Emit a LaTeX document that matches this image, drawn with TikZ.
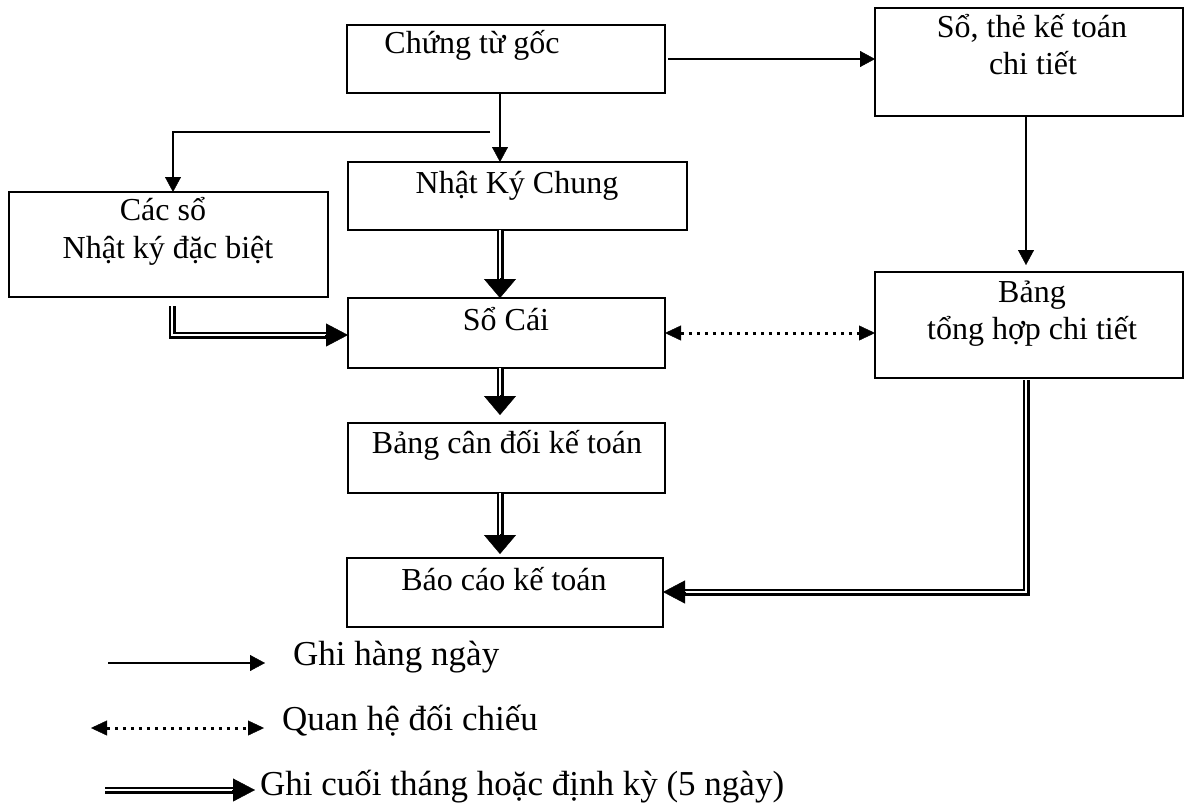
\documentclass[tikz,border=0pt]{standalone}
\usepackage{fontspec}
\setmainfont{Liberation Serif}
\usetikzlibrary{arrows.meta}
\begin{document}
\begin{tikzpicture}[x=1pt,y=-1pt,
  box/.style={draw, line width=1.8pt, rectangle, inner sep=0pt, outer sep=0pt},
  lbl/.style={anchor=base, font=\fontsize{32}{38}\selectfont, inner sep=0pt},
  leg/.style={anchor=base west, font=\fontsize{35}{41}\selectfont, inner sep=0pt},
  flow/.style={line width=2pt, -{Triangle[length=15pt,width=16pt,line width=0.4pt]}},
  cmp/.style={line width=3pt, dash pattern=on 3pt off 5pt,
    {Triangle[length=16pt,width=15pt,line width=0.4pt]}-{Triangle[length=16pt,width=15pt,line width=0.4pt]}},
  dbl/.style={double, double distance=1.8pt, line width=2.6pt},
  vhead/.style={line width=0.4pt, -{Triangle[length=19pt,width=32pt,line width=0.4pt]}},
  hhead/.style={line width=0.4pt, -{Triangle[length=22pt,width=23pt,line width=0.4pt]}},
]
\useasboundingbox (0,0) rectangle (1190,803);

% boxes
\node[box, minimum width=318pt, minimum height=68pt] (A) at (506,59) {};
\node[lbl] (At) at (472,53) {Chứng từ gốc};
\node[box, minimum width=308pt, minimum height=108pt] (B) at (1029,62) {};
\node[lbl] (Bt1) at (1032,37) {Sổ, thẻ kế toán};
\node[lbl] (Bt2) at (1033,74) {chi tiết};
\node[box, minimum width=339pt, minimum height=68pt] (C) at (517.5,196) {};
\node[lbl] (Ct) at (517,193) {Nhật Ký Chung};
\node[box, minimum width=319pt, minimum height=105pt] (D) at (168.5,244.5) {};
\node[lbl] (Dt1) at (163,220) {Các sổ};
\node[lbl] (Dt2) at (168,258) {Nhật ký đặc biệt};
\node[box, minimum width=317pt, minimum height=70pt] (E) at (506.5,333) {};
\node[lbl] (Et) at (506,330) {Sổ Cái};
\node[box, minimum width=308pt, minimum height=106pt] (F) at (1029,325) {};
\node[lbl] (Ft1) at (1032,302) {Bảng};
\node[lbl] (Ft2) at (1032,339) {tổng hợp chi tiết};
\node[box, minimum width=317pt, minimum height=70pt] (G) at (506.5,458) {};
\node[lbl] (Gt) at (507,453) {Bảng cân đối kế toán};
\node[box, minimum width=316pt, minimum height=69pt] (H) at (505,592.5) {};
\node[lbl] (Ht) at (504,590) {Báo cáo kế toán};

% routing helpers
\coordinate (spine) at (500,0);
\coordinate (rspine) at (1026,0);
\coordinate (br) at (490,132);
\coordinate (dx) at (173,0);
\coordinate (dl) at (172,335);
\coordinate (fh) at (1026,592);

% daily entries
\draw[flow] ([xshift=3pt]A.east) -- (A.east -| B.west);
\draw[flow] (A.south -| spine) -- (C.north -| spine);
\draw[flow] (br) -- (br -| dx) -- (D.north -| dx);
\draw[flow] (B.south -| rspine) -- ([yshift=7pt]F.north -| rspine);

% cross-check
\draw[cmp] (E.east) -- (E.east -| F.west);

% periodic entries
\draw[dbl] (C.south -| spine) -- ([yshift=10pt]E.north -| spine);
\draw[vhead] ([yshift=20pt]E.north -| spine) -- (E.north -| spine);
\draw[dbl] ([yshift=-9pt]D.south -| dl) -- (dl) -- ([xshift=-10pt]E.west |- dl);
\draw[hhead] ([xshift=-23pt]E.west |- dl) -- (E.west |- dl);
\draw[dbl] (E.south -| spine) -- ([yshift=18pt]G.north -| spine);
\draw[vhead] ([yshift=28pt]G.north -| spine) -- ([yshift=8pt]G.north -| spine);
\draw[dbl] (G.south -| spine) -- ([yshift=14pt]H.north -| spine);
\draw[vhead] ([yshift=24pt]H.north -| spine) -- ([yshift=4pt]H.north -| spine);
\draw[dbl] ([yshift=-2pt]F.south -| fh) -- (fh) -- ([xshift=10pt]H.east |- fh);
\draw[hhead] ([xshift=23pt]H.east |- fh) -- (H.east |- fh);

% legend
\coordinate (k1a) at (108,663);
\coordinate (k1b) at (265,663);
\draw[flow] (k1a) -- (k1b);
\node[leg] (k1) at (293,665) {Ghi hàng ngày};
\coordinate (k2a) at (91,728);
\coordinate (k2b) at (264,728);
\draw[cmp] (k2a) -- (k2b);
\node[leg] (k2) at (282,730) {Quan hệ đối chiếu};
\coordinate (k3a) at (105,790);
\coordinate (k3b) at (255,790);
\draw[dbl] (k3a) -- ([xshift=-10pt]k3b);
\draw[hhead] ([xshift=-23pt]k3b) -- (k3b);
\node[leg] (k3) at (260,795) {Ghi cuối tháng hoặc định kỳ (5 ngày)};
\end{tikzpicture}
\end{document}
